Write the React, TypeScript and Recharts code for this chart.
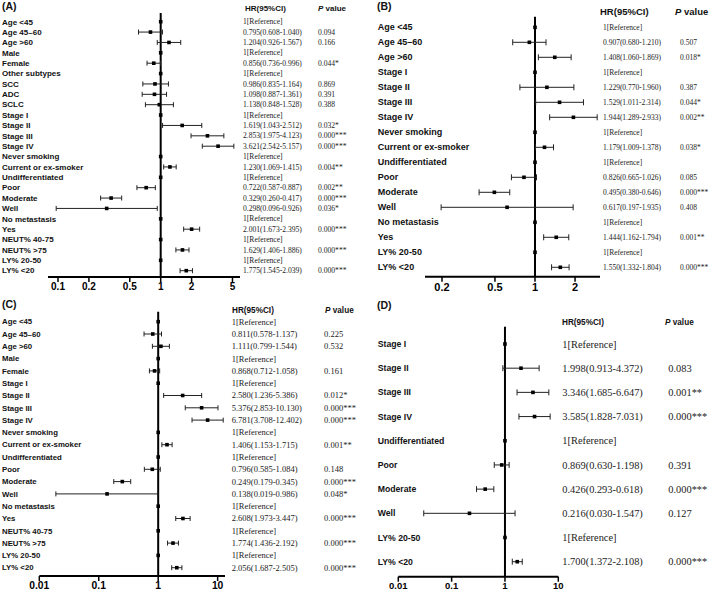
import React from 'react';
import { ScatterChart, Scatter, XAxis, YAxis, ReferenceLine, ErrorBar } from 'recharts';

const SANS = '"Liberation Sans", Arial, sans-serif';
const SERIF = '"Liberation Serif", "Times New Roman", serif';

// ---- (A) ----
const labelsA = ['Age <45', 'Age 45–60', 'Age >60', 'Male', 'Female', 'Other subtypes', 'SCC', 'ADC', 'SCLC',
    'Stage I', 'Stage II', 'Stage III', 'Stage IV', 'Never smoking', 'Current or ex-smoker', 'Undifferentiated',
    'Poor', 'Moderate', 'Well', 'No metastasis', 'Yes', 'NEUT% 40-75', 'NEUT% >75', 'LY% 20-50', 'LY% <20'];
// plotted points (SCC/ADC/SCLC, they sit left of the printed values)
const hrA = [1, 0.795, 1.204, 1, 0.856, 1, 0.88, 0.87, 0.97, 1, 1.619, 2.853, 3.621, 1, 1.23, 1, 0.722, 0.329, 0.298, 1, 2.001, 1, 1.629, 1, 1.775];
const lowA = [null, 0.608, 0.926, null, 0.736, null, 0.67, 0.66, 0.71, null, 1.043, 1.975, 2.542, null, 1.069, null, 0.587, 0.26, 0.096, null, 1.673, null, 1.406, null, 1.545];
const highA = [null, 1.04, 1.567, null, 0.996, null, 1.19, 1.14, 1.33, null, 2.512, 4.123, 5.157, null, 1.415, null, 0.887, 0.417, 0.926, null, 2.395, null, 1.886, null, 2.039];
const hrTextA = ['1[Reference]', '0.795(0.608-1.040)', '1.204(0.926-1.567)', '1[Reference]', '0.856(0.736-0.996)',
    '1[Reference]', '0.986(0.835-1.164)', '1.098(0.887-1.361)', '1.138(0.848-1.528)', '1[Reference]',
    '1.619(1.043-2.512)', '2.853(1.975-4.123)', '3.621(2.542-5.157)', '1[Reference]', '1.230(1.069-1.415)',
    '1[Reference]', '0.722(0.587-0.887)', '0.329(0.260-0.417)', '0.298(0.096-0.926)', '1[Reference]',
    '2.001(1.673-2.395)', '1[Reference]', '1.629(1.406-1.886)', '1[Reference]', '1.775(1.545-2.039)'];
const pA = ['', '0.094', '0.166', '', '0.044*', '', '0.869', '0.391', '0.388', '', '0.032*', '0.000***', '0.000***',
    '', '0.004**', '', '0.002**', '0.000***', '0.036*', '', '0.000***', '', '0.000***', '', '0.000***'];
const ticksA = [0.1, 0.2, 0.5, 1, 2, 5];

// ---- (B) ----
const labelsB = ['Age <45', 'Age 45–60', 'Age >60', 'Stage I', 'Stage II', 'Stage III', 'Stage IV', 'Never smoking',
    'Current or ex-smoker', 'Undifferentiated', 'Poor', 'Moderate', 'Well', 'No metastasis', 'Yes', 'LY% 20-50', 'LY% <20'];
const hrB = [1, 0.907, 1.408, 1, 1.229, 1.529, 1.944, 1, 1.179, 1, 0.826, 0.495, 0.617, 1, 1.444, 1, 1.55];
const lowB = [null, 0.68, 1.06, null, 0.77, 1.011, 1.289, null, 1.009, null, 0.665, 0.38, 0.197, null, 1.162, null, 1.332];
const highB = [null, 1.21, 1.869, null, 1.96, 2.314, 2.933, null, 1.378, null, 1.026, 0.646, 1.935, null, 1.794, null, 1.804];
const hrTextB = ['1[Reference]', '0.907(0.680-1.210)', '1.408(1.060-1.869)', '1[Reference]', '1.229(0.770-1.960)',
    '1.529(1.011-2.314)', '1.944(1.289-2.933)', '1[Reference]', '1.179(1.009-1.378)', '1[Reference]',
    '0.826(0.665-1.026)', '0.495(0.380-0.646)', '0.617(0.197-1.935)', '1[Reference]', '1.444(1.162-1.794)',
    '1[Reference]', '1.550(1.332-1.804)'];
const pB = ['', '0.507', '0.018*', '', '0.387', '0.044*', '0.002**', '', '0.038*', '', '0.085', '0.000***', '0.408',
    '', '0.001**', '', '0.000***'];
const ticksB = [0.2, 0.5, 1, 2];

// ---- (C) ----
const labelsC = ['Age <45', 'Age 45–60', 'Age >60', 'Male', 'Female', 'Stage I', 'Stage II', 'Stage III', 'Stage IV',
    'Never smoking', 'Current or ex-smoker', 'Undifferentiated', 'Poor', 'Moderate', 'Well', 'No metastasis', 'Yes',
    'NEUT% 40-75', 'NEUT% >75', 'LY% 20-50', 'LY% <20'];
const hrC = [1, 0.811, 1.111, 1, 0.868, 1, 2.58, 5.376, 6.781, 1, 1.406, 1, 0.796, 0.249, 0.138, 1, 2.608, 1, 1.774, 1, 2.056];
const lowC = [null, 0.578, 0.799, null, 0.712, null, 1.236, 2.853, 3.708, null, 1.153, null, 0.585, 0.179, 0.019, null, 1.973, null, 1.436, null, 1.687];
const highC = [null, 1.137, 1.544, null, 1.058, null, 5.386, 10.13, 12.402, null, 1.715, null, 1.084, 0.345, 0.986, null, 3.447, null, 2.192, null, 2.505];
const hrTextC = ['1[Reference]', '0.811(0.578-1.137)', '1.111(0.799-1.544)', '1[Reference]', '0.868(0.712-1.058)',
    '1[Reference]', '2.580(1.236-5.386)', '5.376(2.853-10.130)', '6.781(3.708-12.402)', '1[Reference]',
    '1.406(1.153-1.715)', '1[Reference]', '0.796(0.585-1.084)', '0.249(0.179-0.345)', '0.138(0.019-0.986)',
    '1[Reference]', '2.608(1.973-3.447)', '1[Reference]', '1.774(1.436-2.192)', '1[Reference]', '2.056(1.687-2.505)'];
const pC = ['', '0.225', '0.532', '', '0.161', '', '0.012*', '0.000***', '0.000***', '', '0.001**', '', '0.148',
    '0.000***', '0.048*', '', '0.000***', '', '0.000***', '', '0.000***'];
const ticksC = [0.01, 0.1, 1, 10];

// ---- (D) ----
const labelsD = ['Stage I', 'Stage II', 'Stage III', 'Stage IV', 'Undifferentiated', 'Poor', 'Moderate', 'Well', 'LY% 20-50', 'LY% <20'];
const hrD = [1, 1.998, 3.346, 3.585, 1, 0.869, 0.426, 0.216, 1, 1.7];
const lowD = [null, 0.913, 1.685, 1.828, null, 0.63, 0.293, 0.03, null, 1.372];
const highD = [null, 4.372, 6.647, 7.031, null, 1.198, 0.618, 1.547, null, 2.108];
const hrTextD = ['1[Reference]', '1.998(0.913-4.372)', '3.346(1.685-6.647)', '3.585(1.828-7.031)', '1[Reference]',
    '0.869(0.630-1.198)', '0.426(0.293-0.618)', '0.216(0.030-1.547)', '1[Reference]', '1.700(1.372-2.108)'];
const pD = ['', '0.083', '0.001**', '0.000***', '', '0.391', '0.000***', '0.127', '', '0.000***'];
const ticksD = [0.01, 0.1, 1, 10];

interface Row {
    row: number;
    hr: number;
    err?: [number, number];
    label: string;
    hrText: string;
    p: string;
}

const buildRows = (labels: string[], hr: number[], low: (number | null)[], high: (number | null)[], hrText: string[], p: string[]): Row[] =>
    labels.map((label, i) => ({
        row: i + 1,
        hr: hr[i],
        err: low[i] == null ? undefined : [hr[i] - (low[i] as number), (high[i] as number) - hr[i]],
        label,
        hrText: hrText[i],
        p: p[i],
    }));

// layout of each panel (page px)
const PANELS = [
    {
        key: 'A', rows: buildRows(labelsA, hrA, lowA, highA, hrTextA, pA), ticks: ticksA,
        left: 0, top: 0, width: 355, height: 298,
        plotLeft: 48, plotRight: 240, plotTop: 13, plotBottom: 277,
        xDomain: [0.0799, 5.92], yDomain: [0.161, 25.61],
        labelX: 2, hrX: 243, pX: 318, labelSize: 8, hrSize: 7.6, tickSize: 10, cap: 2.5,
    },
    {
        key: 'B', rows: buildRows(labelsB, hrB, lowB, highB, hrTextB, pB), ticks: ticksB,
        left: 355, top: 0, width: 354, height: 298,
        plotLeft: 70, plotRight: 245, plotTop: 16.7, plotBottom: 276.7,
        xDomain: [0.149, 3.08], yDomain: [0.293, 17.627],
        labelX: 22.7, hrX: 248, pX: 325, labelSize: 9, hrSize: 7.5, tickSize: 11, cap: 3,
    },
    {
        key: 'C', rows: buildRows(labelsC, hrC, lowC, highC, hrTextC, pC), ticks: ticksC,
        left: 0, top: 300, width: 362, height: 294,
        plotLeft: 39.3, plotRight: 225, plotTop: 11.7, plotBottom: 276,
        xDomain: [0.01, 13.3], yDomain: [0.187, 21.675],
        labelX: 2, hrX: 231.7, pX: 324, labelSize: 7.8, hrSize: 8.5, tickSize: 10.3, cap: 2.5,
    },
    {
        key: 'D', rows: buildRows(labelsD, hrD, lowD, highD, hrTextD, pD), ticks: ticksD,
        left: 355, top: 300, width: 354, height: 294,
        plotLeft: 43.3, plotRight: 203.3, plotTop: 26.7, plotBottom: 276.7,
        xDomain: [0.01, 10], yDomain: [0.285, 10.62],
        labelX: 22.7, hrX: 207.3, pX: 313.3, labelSize: 8.7, hrSize: 10.4, tickSize: 9.5, cap: 3,
    },
];

// panel letters and column headers
const HEADERS = [
    { letter: '(A)', lx: 2, ly: 6, hx: 245, px: 318, hy: 8, size: 8 },
    { letter: '(B)', lx: 377, ly: 6, hx: 600, px: 675, hy: 12, size: 9.5 },
    { letter: '(C)', lx: 2, ly: 304, hx: 232, px: 325, hy: 310, size: 8.2 },
    { letter: '(D)', lx: 377, ly: 305, hx: 562, px: 665, hy: 322, size: 8.2 },
];

const Square = (props: any) => {
    const { cx, cy } = props;
    if (cx == null || cy == null) return null;
    return <rect x={cx - 1.8} y={cy - 1.8} width={3.6} height={3.6} fill="#000" />;
};

const RowTick = (props: any) => {
    const { y, payload, rows, cfg } = props;
    const r: Row | undefined = rows[Math.round(payload.value) - 1];
    if (!r) return null;
    return (
        <g>
            <text x={cfg.labelX} y={y} dy="0.35em" fontFamily={SANS} fontWeight="bold" fontSize={cfg.labelSize} fill="#111">
                {r.label}
            </text>
            <text x={cfg.hrX} y={y} dy="0.35em" fontFamily={SERIF} fontSize={cfg.hrSize} fill="#222">
                {r.hrText}
            </text>
            {r.p ? (
                <text x={cfg.pX} y={y} dy="0.35em" fontFamily={SERIF} fontSize={cfg.hrSize} fill="#222">
                    {r.p}
                </text>
            ) : null}
        </g>
    );
};

const ForestPanel = ({ cfg }: { cfg: any }) => (
    <div style={{ position: 'absolute', left: cfg.left, top: cfg.top }}>
        <ScatterChart
            width={cfg.width}
            height={cfg.height}
            margin={{ top: cfg.plotTop, right: cfg.width - cfg.plotRight, bottom: 0, left: 0 }}
        >
            <XAxis
                type="number"
                dataKey="hr"
                scale="log"
                domain={cfg.xDomain}
                allowDataOverflow
                ticks={cfg.ticks}
                interval={0}
                height={cfg.height - cfg.plotBottom}
                tickFormatter={(v: number) => String(v)}
                axisLine={{ stroke: '#000', strokeWidth: 2 }}
                tickLine={{ stroke: '#000', strokeWidth: 1.5 }}
                tickSize={5}
                tickMargin={1}
                tick={{ fill: '#000', fontSize: cfg.tickSize, fontWeight: 'bold', fontFamily: SANS }}
            />
            <YAxis
                type="number"
                dataKey="row"
                domain={cfg.yDomain}
                reversed
                allowDataOverflow
                ticks={cfg.rows.map((r: Row) => r.row)}
                interval={0}
                width={cfg.plotLeft}
                axisLine={false}
                tickLine={false}
                tick={(p: any) => <RowTick {...p} rows={cfg.rows} cfg={cfg} />}
            />
            <ReferenceLine x={1} stroke="#000" strokeWidth={2} />
            <Scatter data={cfg.rows} shape={Square} isAnimationActive={false}>
                <ErrorBar dataKey="err" direction="x" width={cfg.cap} stroke="#222" strokeWidth={1} isAnimationActive={false} />
            </Scatter>
        </ScatterChart>
    </div>
);

export default function App() {
    return (
        <div style={{ position: 'absolute', left: 0, top: 0, width: 709, height: 594, background: '#fff', overflow: 'hidden' }}>
            {PANELS.map((cfg) => (
                <ForestPanel key={cfg.key} cfg={cfg} />
            ))}
            <svg width={709} height={594} style={{ position: 'absolute', left: 0, top: 0, pointerEvents: 'none' }}>
                {HEADERS.map((h) => (
                    <g key={h.letter} fontFamily={SANS} fill="#111">
                        <text x={h.lx} y={h.ly} dy="0.35em" fontSize={10.5} fontWeight="bold">{h.letter}</text>
                        <text x={h.hx} y={h.hy} dy="0.35em" fontSize={h.size} fontWeight="bold">HR(95%CI)</text>
                        <text x={h.px} y={h.hy} dy="0.35em" fontSize={h.size} fontWeight="bold">
                            <tspan fontStyle="italic">P</tspan> value
                        </text>
                    </g>
                ))}
            </svg>
        </div>
    );
}
